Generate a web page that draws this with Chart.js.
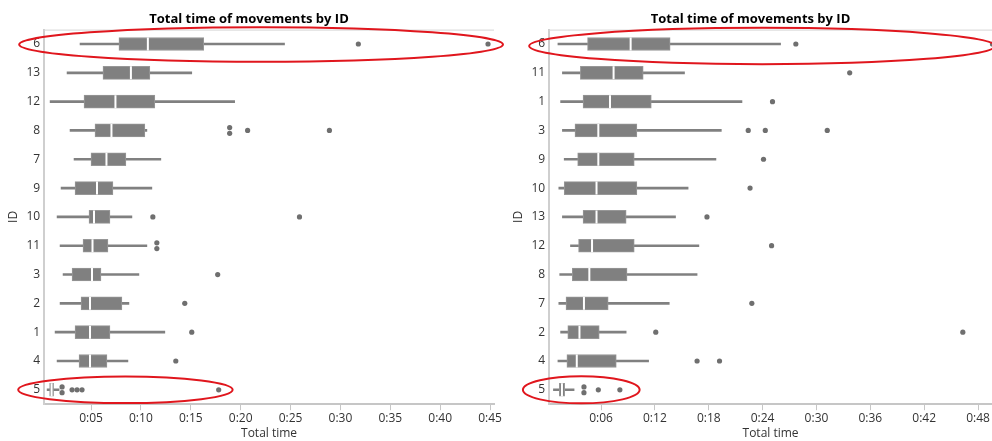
<!DOCTYPE html>
<html>
<head>
<meta charset="utf-8">
<script src="https://cdn.jsdelivr.net/npm/chart.js@4"></script>
<style>
  body { margin: 0; background: #fff; }
  #wrap { position: relative; width: 992px; height: 441px; overflow: hidden; background: #fff; }
  canvas { position: absolute; top: 0; }
  #left { left: 0; }
  #right { left: 496px; }
</style>
</head>
<body>
<div id="wrap">
  <canvas id="left" width="520" height="441"></canvas>
  <canvas id="right" width="512" height="441"></canvas>
</div>
<script>
// all values in seconds (top row first)

// left panel
const leftIds    = ['6', '13', '12', '8', '7', '9', '10', '11', '3', '2', '1', '4', '5'];
const leftMin    = [3.9, 2.6, 0.9, 2.9, 3.3, 2.0, 1.6, 1.9, 2.2, 1.9, 1.4, 1.6, 0.6];
const leftQ1     = [7.8, 6.2, 4.3, 5.4, 5.0, 3.4, 4.8, 4.2, 3.1, 4.0, 3.4, 3.8, 0.85];
const leftMedian = [10.7, 9.0, 7.45, 7.05, 6.55, 5.6, 5.3, 5.15, 5.1, 4.9, 4.9, 4.9, 1.05];
const leftQ3     = [16.3, 10.9, 11.4, 10.4, 8.5, 7.2, 6.9, 6.7, 6.0, 8.1, 6.9, 6.6, 1.25];
const leftMax    = [24.4, 15.1, 19.4, 10.6, 12.0, 11.1, 9.1, 10.6, 9.8, 8.8, 12.4, 8.7, 1.8];
const leftOutliers = [
  [31.8, 44.8], [], [], [18.9, 18.9, 20.7, 28.9], [], [], [11.2, 25.9],
  [11.6, 11.6], [17.7], [14.4], [15.1], [13.5], [2.1, 2.1, 3.1, 3.6, 4.1, 17.8]
];
const leftTicks = [5, 10, 15, 20, 25, 30, 35, 40, 45];

// right panel
const rightIds    = ['6', '11', '1', '3', '9', '10', '13', '12', '8', '7', '2', '4', '5'];
const rightMin    = [1.2, 1.7, 1.5, 1.7, 1.9, 1.3, 1.7, 2.6, 1.4, 1.3, 1.5, 1.2, 0.7];
const rightQ1     = [4.5, 3.7, 4.0, 3.1, 3.4, 1.9, 4.0, 3.5, 2.8, 2.1, 2.3, 2.2, 1.35];
const rightMedian = [9.3, 7.4, 7.0, 5.7, 5.7, 5.5, 5.5, 5.0, 4.7, 4.1, 3.6, 3.3, 1.65];
const rightQ3     = [13.7, 10.7, 11.6, 10.0, 9.7, 10.0, 8.8, 9.7, 8.9, 6.8, 5.8, 7.7, 1.95];
const rightMax    = [26.0, 15.3, 21.7, 19.4, 18.8, 15.7, 14.3, 16.9, 16.7, 13.6, 8.8, 11.3, 3.0];
const rightOutliers = [
  [27.7, 49.6], [33.7], [25.1], [22.4, 24.3, 31.2], [24.1], [22.6], [17.8],
  [25.0], [], [22.8], [12.1, 46.3], [16.7, 19.2], [4.1, 4.1, 5.7, 8.1]
];
const rightTicks = [6, 12, 18, 24, 30, 36, 42, 48];

Chart.defaults.font.family = '"Open Sans", "Segoe UI", sans-serif';
Chart.defaults.font.size = 12;
Chart.defaults.color = '#333';

const GREY = '#808080';

function fmtTime(v) {
  return Math.floor(v / 60) + ':' + String(Math.round(v % 60)).padStart(2, '0');
}

// repeated outliers in one row are stacked a little above/below each other
function outlierPoints(outliers) {
  const pts = [];
  outliers.forEach((list, i) => {
    const count = {};
    list.forEach(v => { count[v] = (count[v] || 0) + 1; });
    const seen = {};
    list.forEach(v => {
      const j = seen[v] = (seen[v] === undefined ? 0 : seen[v] + 1);
      pts.push({ x: v, y: i + (j - (count[v] - 1) / 2) * 0.2 });
    });
  });
  return pts;
}

// thin line along the top of the plot area
const topLine = {
  id: 'topLine',
  beforeDatasetsDraw(chart) {
    const { ctx, chartArea: a } = chart;
    ctx.save();
    ctx.strokeStyle = '#d6d6d6';
    ctx.lineWidth = 1;
    ctx.beginPath();
    ctx.moveTo(a.left, a.top + 0.5);
    ctx.lineTo(a.right, a.top + 0.5);
    ctx.stroke();
    ctx.restore();
  }
};

// red hand-drawn style rings around some rows
function ringPlugin(rings) {
  return {
    id: 'rings',
    afterDraw(chart) {
      const { ctx, scales } = chart;
      const x = scales.x, y = scales.y;
      const band = y.getPixelForValue(1) - y.getPixelForValue(0);
      ctx.save();
      ctx.strokeStyle = '#e0161d';
      ctx.lineWidth = 2;
      rings.forEach(r => {
        const x0 = x.getPixelForValue(r.from);
        const x1 = x.getPixelForValue(r.to);
        const cy = y.getPixelForValue(y.getLabels().indexOf(r.row)) + r.dy * band;
        ctx.beginPath();
        ctx.ellipse((x0 + x1) / 2, cy, (x1 - x0) / 2, r.h * band, 0, 0, Math.PI * 2);
        ctx.stroke();
      });
      ctx.restore();
    }
  };
}

function boxChart(canvasId, ids, mins, q1s, meds, q3s, maxs, outliers, ticks, xMin, xMax, padding, rings) {
  const ctx = document.getElementById(canvasId);
  return new Chart(ctx, {
    type: 'bar',
    data: {
      labels: ids,
      datasets: [
        {
          label: 'whisker',
          data: ids.map((_, i) => [mins[i], maxs[i]]),
          backgroundColor: GREY,
          barThickness: 2,
          grouped: false,
          order: 3
        },
        {
          label: 'box',
          data: ids.map((_, i) => [q1s[i], q3s[i]]),
          backgroundColor: GREY,
          borderColor: '#979797',
          borderWidth: 1,
          borderSkipped: false,
          barThickness: 13,
          grouped: false,
          order: 2
        },
        {
          type: 'scatter',
          label: 'median',
          data: ids.map((id, i) => ({ x: meds[i], y: id })),
          pointStyle: 'line',
          pointRotation: 90,
          pointRadius: 6.5,
          pointBorderColor: '#fff',
          pointBorderWidth: 2,
          order: 1
        },
        {
          type: 'scatter',
          label: 'outliers',
          data: outlierPoints(outliers),
          yAxisID: 'yo',
          pointRadius: 2.6,
          pointBackgroundColor: '#6f6f6f',
          pointBorderWidth: 0,
          clip: false,
          order: 0
        }
      ]
    },
    options: {
      indexAxis: 'y',
      responsive: false,
      animation: false,
      events: [],
      layout: { padding: padding },
      plugins: {
        legend: { display: false },
        tooltip: { enabled: false },
        title: {
          display: true,
          text: 'Total time of movements by ID',
          color: '#000',
          font: { size: 13, weight: 'bold' },
          padding: { top: 11, bottom: 3 }
        }
      },
      scales: {
        x: {
          type: 'linear',
          min: xMin,
          max: xMax,
          afterBuildTicks: scale => { scale.ticks = ticks.map(v => ({ value: v })); },
          ticks: { callback: v => fmtTime(v), padding: 1, maxRotation: 0, autoSkip: false },
          grid: { drawOnChartArea: false, drawTicks: true, tickLength: 6, color: '#c6c6c6' },
          border: { color: '#c6c6c6', width: 2 },
          title: { display: true, text: 'Total time', padding: { top: 0, bottom: 0 } }
        },
        y: {
          type: 'category',
          grid: { display: false, drawTicks: false },
          border: { color: '#cfcfcf', width: 2 },
          ticks: { padding: 4 },
          title: { display: true, text: 'ID', padding: { top: 2, bottom: 2 } }
        },
        yo: {
          type: 'linear',
          axis: 'y',
          display: false,
          offset: false,
          grace: 0,
          beginAtZero: false,
          reverse: true,
          min: -0.5,
          max: ids.length - 0.5
        }
      }
    },
    plugins: [topLine, ringPlugin(rings)]
  });
}

boxChart('left', leftIds, leftMin, leftQ1, leftMedian, leftQ3, leftMax, leftOutliers,
  leftTicks, 0.3, 45.4, { left: 4, right: 26, top: 0, bottom: 0 },
  [
    { row: '6', from: -2.2, to: 46.3, dy: 0.02, h: 0.6 },
    { row: '5', from: -2.3, to: 19.2, dy: 0.0, h: 0.46 }
  ]);

// right canvas runs 16px past the page edge so its plot area ends at the window edge
boxChart('right', rightIds, rightMin, rightQ1, rightMedian, rightQ3, rightMax, rightOutliers,
  rightTicks, 0.22, 49.55, { left: 13, right: 16, top: 0, bottom: 0 },
  [
    { row: '6', from: -2.0, to: 49.9, dy: 0.07, h: 0.63 },
    { row: '5', from: -2.7, to: 10.3, dy: 0.0, h: 0.47 }
  ]);
</script>
</body>
</html>
